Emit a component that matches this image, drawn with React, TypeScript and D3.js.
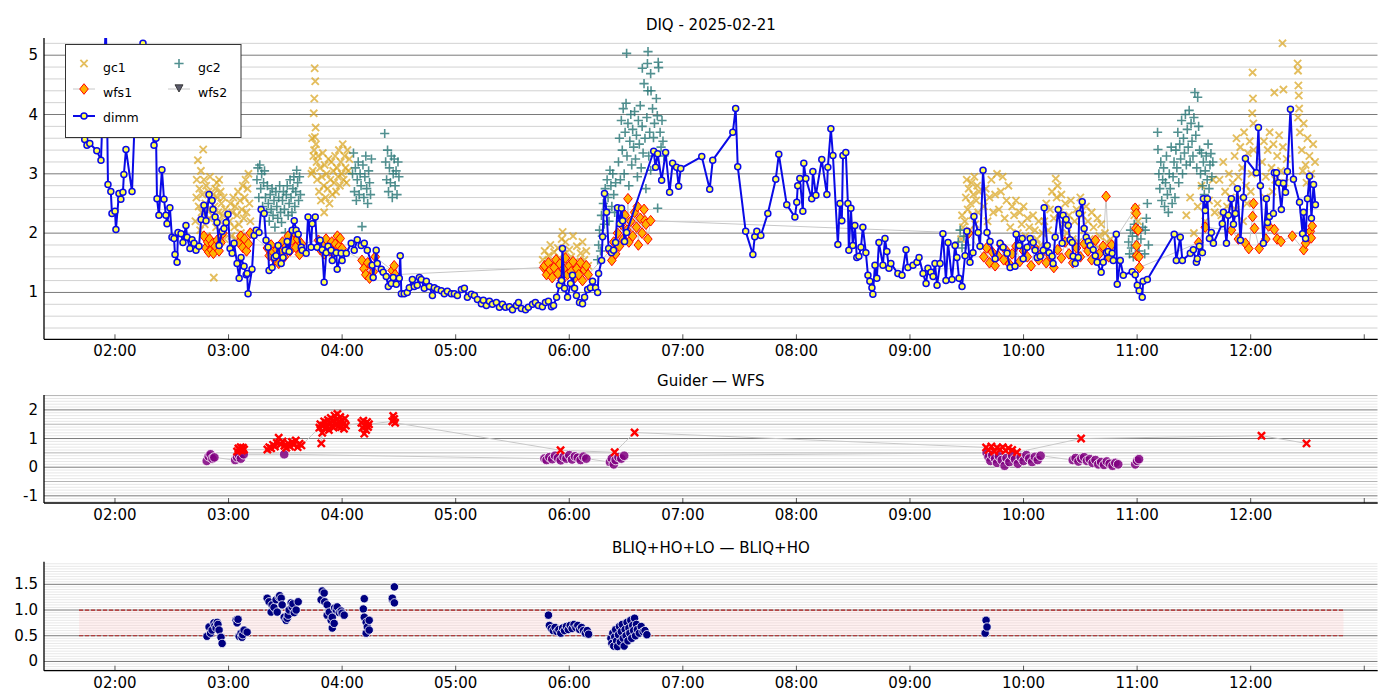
import React from "react";
import * as d3 from "d3";

type P = [number, number];

// ---------------- DATA (time in minutes after 00:00 UT, value) ----------------
const dimm: P[] = [
[100,3.90],[102,3.72],[104,3.58],[105.2,3.48],[106.7,3.51],[110.4,3.39],[112.6,3.23],[115.2,5.6],[116.3,2.82],[117.8,2.70],[118.4,2.33],[120,2.37],[120.5,2.06],[122.1,2.67],[123.1,2.57],[124.2,2.69],[124.7,2.99],[125.8,3.41],[129,2.70],[131,4.4],[134.8,5.20],[137.5,4.3],[140.6,3.48],[141.7,3.60],[142.2,2.58],[143.2,2.30],[144.8,3.07],[145.9,2.57],[146.9,2.30],[147.5,2.16],[149,2.43],[150.1,1.93],[151.2,1.91],[151.7,1.64],[152.8,1.51],[153.3,2.01],[154.9,1.99],[155.9,1.84],[157.5,2.13],[158.1,1.93],[159.6,1.74],[160.7,1.89],[161.8,1.83],[162.8,1.71],[164.4,1.78],[165.5,2.23],[167,2.47],[168.1,2.21],[169.7,2.65],[171.3,2.55],[171.8,2.40],[172.9,2.27],[173.9,2.18],[175,1.79],[176.6,2.03],[177.6,2.08],[178.7,2.18],[179.7,2.32],[180.8,1.74],[181.9,1.66],[182.9,1.83],[184.5,1.49],[185.6,1.24],[186.6,1.59],[188.2,1.44],[189.3,1.30],[189.8,1.32],[190.3,0.98],[192.4,1.39],[193.5,1.96],[194.6,2.05],[196.1,2.01],[197.2,2.40],[198.8,2.33],[199.8,1.88],[200.9,1.76],[201.4,1.37],[203,1.42],[204.1,1.59],[205.1,1.62],[206.2,1.79],[207.8,1.49],[208.8,1.59],[209.9,1.71],[211,1.86],[212,1.69],[213.6,2.05],[214.7,2.21],[215.7,2.05],[216.8,1.98],[218.4,1.76],[218.9,1.71],[221,1.66],[222,2.27],[223.6,1.76],[224.2,2.16],[225.8,2.27],[226.8,1.76],[228.4,1.88],[229.5,1.72],[230.5,1.17],[231.6,1.67],[232.6,1.78],[234.2,1.71],[234.8,1.54],[236.9,1.67],[237.4,1.39],[239.5,1.66],[240,1.54],[242.2,1.66],[244.8,1.83],[246.4,1.71],[248,1.89],[250.1,1.79],[251.7,1.83],[253.3,1.71],[255.9,1.46],[256.4,1.25],[258,1.71],[258.6,1.49],[260.7,1.39],[261.7,1.34],[263.3,1.27],[264.4,1.10],[266,1.15],[267,1.25],[268.6,1.14],[270.2,1.24],[270.7,1.62],[271.3,0.98],[272.8,0.98],[274.4,1.00],[275.5,1.08],[277.1,1.22],[278.1,1.10],[279.7,1.12],[280.8,1.25],[281.8,1.22],[283.4,1.07],[284.5,1.19],[286.1,1.10],[287.7,0.95],[288.7,1.08],[290.3,1.05],[292.4,1.03],[294,0.98],[295.6,1.02],[297.7,0.98],[299.3,0.98],[300.9,0.95],[303,1.05],[304.6,1.07],[306.2,0.92],[308.3,0.97],[309.9,0.95],[311.5,0.88],[313.6,0.81],[314.6,0.87],[316.2,0.78],[317.8,0.85],[319.4,0.80],[321.5,0.83],[323.1,0.75],[324.7,0.80],[326.3,0.75],[328.4,0.76],[330,0.71],[332.1,0.78],[333.2,0.83],[334.7,0.73],[336.9,0.71],[338.4,0.75],[340.6,0.80],[342.1,0.83],[343.7,0.78],[345.8,0.76],[347.4,0.83],[349,0.85],[350.6,0.76],[351.7,0.78],[353.3,0.92],[354.8,1.12],[355.9,1.20],[356.4,1.74],[357.5,1.07],[359.1,0.92],[360.7,1.15],[361.7,1.29],[362.8,1.07],[363.8,0.95],[365.4,0.83],[367,0.81],[368.1,0.92],[369.7,1.05],[371.2,1.08],[372.3,1.19],[373.9,1.08],[375,1.00],[375.5,1.32],[377.1,1.54],[377.6,1.94],[378.6,2.67],[379.7,2.35],[380.8,1.74],[382.3,1.67],[383.4,1.71],[384.5,1.84],[385.5,2.43],[386.6,2.16],[387.6,2.42],[388.2,2.21],[389.2,1.86],[390.3,2.01],[404.6,3.38],[405.6,3.11],[406.7,3.34],[408.8,2.89],[410.9,3.36],[413,2.69],[414.6,3.18],[416.7,3.11],[417.8,2.79],[418.9,3.09],[430,3.29],[434.2,2.74],[435.8,3.23],[446.4,3.70],[447.9,4.10],[449,3.12],[453.2,2.03],[457,1.64],[458,1.94],[459.1,2.03],[461.2,1.96],[464.9,2.33],[469.1,2.91],[470.7,3.33],[474.9,2.48],[479.2,2.27],[480.2,2.52],[480.7,2.80],[481.8,2.92],[483.4,2.37],[483.9,3.18],[485,2.92],[488.1,2.58],[488.7,3.04],[490.3,2.64],[493.4,3.24],[496.1,2.65],[496.6,3.11],[498.2,3.76],[499.3,3.31],[501.9,1.81],[503,2.50],[504,2.21],[504.6,3.31],[506.1,3.36],[507.2,2.50],[507.7,1.71],[508.8,2.42],[509.8,1.79],[510.9,2.13],[511.9,1.59],[513,1.61],[514.1,1.76],[515.1,2.10],[516.7,1.67],[517.8,1.29],[518.8,1.19],[519.9,1.08],[520.4,0.97],[521.5,1.46],[522.5,1.24],[523.6,1.84],[525.7,1.46],[526.8,1.91],[527.8,1.69],[528.9,1.41],[529.9,1.49],[533.6,1.32],[535.8,1.29],[537.9,1.72],[538.9,1.42],[541.6,1.46],[543.7,1.51],[544.8,1.59],[546.9,1.32],[548.5,1.15],[549.5,1.41],[551.1,1.34],[552.2,1.27],[553.2,1.49],[554.3,1.12],[555.9,1.49],[557.4,1.99],[559,1.20],[560.1,1.84],[562.2,1.22],[563.8,1.79],[564.8,1.59],[565.9,1.24],[567.5,1.10],[569.1,1.62],[570.1,2.03],[571.7,1.51],[573.3,1.67],[573.8,2.28],[576,2.01],[577,1.78],[578.6,3.06],[580.7,2.01],[582.3,1.86],[585,1.57],[587.6,1.83],[589.2,1.76],[591.3,1.66],[592.9,1.42],[595.5,1.44],[596.1,1.98],[597.7,1.79],[599.3,1.91],[599.8,1.57],[601.9,1.76],[603.5,1.91],[605.1,1.84],[606.1,1.71],[607.2,1.59],[608.8,1.61],[610.4,1.71],[610.9,2.43],[612.5,1.79],[613.5,1.67],[615.1,1.61],[615.6,1.49],[616.7,1.93],[618.3,2.40],[620.4,1.83],[620.9,2.30],[622.5,2.23],[623.6,2.13],[624.6,1.89],[625.7,1.84],[626.2,1.61],[627.3,1.49],[628.9,1.59],[629.4,2.33],[631,2.53],[632,2.08],[633.1,1.93],[634.2,1.86],[635.2,1.79],[636.8,1.72],[637.9,1.62],[638.9,1.51],[641,1.34],[642.1,1.51],[643.7,1.67],[644.7,1.69],[646.8,1.66],[647.4,1.54],[649,1.98],[649.5,1.14],[651.1,1.54],[652.7,1.29],[657.4,1.35],[659,1.30],[660.1,1.12],[661.1,1.03],[662.7,0.92],[663.2,1.19],[665.4,1.22],[679.6,1.98],[680.7,1.54],[682.8,1.93],[683.9,1.54],[688.1,1.66],[689.7,1.72],[691.3,1.51],[691.8,1.57],[692.9,1.78],[694.5,1.67],[695,2.58],[696,2.38],[697.1,2.58],[698.2,1.91],[699.2,2.01],[700.3,1.83],[705,2.16],[705.6,2.35],[707.2,1.83],[708.2,2.30],[709.8,2.58],[710.9,2.15],[711.9,2.33],[713,2.75],[714.6,1.88],[716.2,2.60],[717.2,3.26],[723,3.02],[724.1,3.78],[725.1,2.80],[726.7,1.83],[728.3,2.58],[728.9,2.18],[729.9,2.28],[732,2.33],[732.5,3.02],[733.6,3.02],[734.7,2.85],[736.2,2.40],[737.3,2.84],[738.4,2.69],[739.4,3.04],[741,4.09],[742.6,2.91],[745.8,2.52],[747.4,1.99],[747.9,2.35],[749,1.91],[750,2.58],[751.1,2.96],[752.1,2.25],[753.2,2.82],[754.2,2.48]
];

const gc1: P[] = [
[162.5,2.2],[163,2.6],[163.2,2.9],[163.8,3.23],[164.2,2.45],[164.6,2.75],[165,2.05],[165.4,3.05],[165.8,2.35],[166.2,2.65],[166.6,3.41],[167,2.9],[167.4,2.15],[167.8,2.5],[168.2,2.8],[168.6,1.95],[169,2.4],[169.4,2.7],[169.8,2.25],[170.2,2.95],[170.6,2.55],[171,1.85],[171.4,2.3],[171.8,2.65],[172.2,1.25],[172.6,2.45],[173,2.75],[173.4,2.1],[173.8,2.85],[174.2,2.6],[174.6,2.35],[175,2.9],[175.4,2.2],[175.8,2.7],[176.2,2.5],[176.6,2.0],[177,2.3],[177.4,2.6],[177.8,1.9],[178.2,2.4],
[180.5,2.2],[181,2.5],[181.5,1.95],[182,2.35],[182.5,2.6],[183,2.1],[183.5,2.45],[184,1.9],[184.5,2.3],[185,2.7],[185.5,2.15],[186,2.55],[186.5,2.0],[187,2.4],[187.5,2.8],[188,2.25],[188.5,2.6],[189,2.9],[189.5,2.35],[190,2.75],[190.5,3.0],[191,2.5],[191.5,2.2],
[225.5,4.78],[225.8,4.56],[225.3,4.27],[225,4.02],[226,3.78],[225.6,3.62],[226.2,3.5],[225.2,3.4],[224.8,3.3],[226.5,3.2],[224.5,3.05],
[223.8,3.0],[224.2,3.6],[226.8,2.9],[227.3,3.3],[227.8,2.7],[228.3,3.1],[228.8,2.55],[229.3,2.95],[229.8,3.35],[230.3,2.8],[230.8,3.15],[231.3,2.6],[231.8,3.0],[232.3,2.75],[232.8,3.25],[233.3,2.5],[233.8,2.9],[234.3,3.2],[234.8,2.65],[235.3,3.05],[235.8,2.85],[236.3,3.3],[236.8,2.7],[237.3,3.1],[237.8,2.95],[238.3,3.4],[238.8,2.8],[239.3,3.2],[239.8,3.0],[240.3,3.5],[240.8,2.9],[241.3,3.3],[241.8,3.1],[242.3,2.85],[242.8,3.4],[243.3,3.05],[243.8,3.25],[230.5,2.35],
[346,1.55],[347,1.7],[348,1.45],[349,1.62],[350,1.8],[351,1.5],[352,1.68],[353,1.4],[354,1.75],[355,1.58],[356,1.9],[356.5,2.02],[357,1.65],[358,1.85],[359,1.48],[360,1.72],[361,1.6],[362,1.95],[363,1.52],[364,1.78],[365,1.42],[366,1.66],[367,1.85],[368,1.55],[369,1.7],[370,1.45],[358.5,1.35],[363.5,1.3],
[567,1.9],[567.5,2.3],[568,2.1],[569,2.2],[569.5,2.6],[570,2.9],[570.5,2.4],[571,2.75],[571.5,2.05],[572,2.5],[572.5,2.85],[573,2.3],[573.5,2.65],[574,2.95],[574.5,2.15],[575,2.55],[575.5,2.8],[576,2.35],[576.5,2.7],
[579,2.45],[580,2.75],[581,2.2],[582,2.6],[583,2.9],[584,2.35],[585,2.65],[586,3.0],[587,2.4],[588,2.7],[589,2.95],[590,2.25],[591,2.55],[592,2.8],[593,2.1],[594,2.45],
[595,2.3],[596,2.55],[597,2.0],[598,2.35],[599,2.15],[600,2.45],[601,1.95],[602,2.25],[603,2.1],[604,1.85],[605,2.3],[606,2.05],[607,1.9],[608,2.2],[609,1.8],[610,2.0],
[611,2.2],[612,2.5],[613,2.05],[614,2.4],[615,2.7],[616,2.25],[617,2.92],[617.5,2.6],[618,2.8],[619,2.35],[620,2.65],[621,2.15],[622,2.5],[623,2.0],[624,2.3],[625,2.55],[626,1.9],[627,2.2],[628,2.4],[629,1.85],
[630,2.6],[631,2.3],[632,2.05],[633,2.45],[634,2.2],[635,1.9],[636,2.35],[637,2.1],[638,1.8],[639,2.25],[640,1.95],[641,2.15],[642,1.7],[643,2.0],[644,1.85],[645,1.6],[646,1.9],
[658.5,2.3],[659.5,2.42],[660.5,2.2],
[686,2.3],[688,2.6],[690,2.0],[692,2.45],[694,2.8],[696,2.2],[698,2.55],[700,2.9],[701,2.35],
[702.5,2.5],[703.5,2.9],[704.5,2.3],[705.5,3.2],[706.5,2.7],[707.5,2.45],[708.5,3.0],[709.5,2.6],[710.5,2.85],
[711.5,3.3],[712.5,3.6],[713.5,2.95],[714.5,3.45],[715.5,3.1],[716.5,3.7],[717.5,2.8],[718.5,3.35],[719.5,3.55],[720.5,3.0],[721.5,3.4],[712,2.4],[714,2.6],[716,2.2],[718,2.5],[720,2.7],
[721,4.71],[721.2,4.27],[720.8,4.02],[721.4,3.85],
[726,3.2],[727,3.55],[728,2.95],[729,3.4],[730,3.7],[731,3.1],[732,3.5],[733,2.9],[734,3.3],[735,3.65],[736,3.05],[737,3.45],[738,2.85],[739,3.25],[727.5,2.6],[731.5,2.7],
[732.5,4.37],[737.3,4.42],[736.8,5.2],
[744.8,4.86],[745,4.74],[745.2,4.49],[745.4,4.32],[745.6,4.1],[745,3.95],[746,3.7],[747,3.4],[748,3.85],[749,3.15],[750,3.6],[751,3.3],[752,3.0],[753,3.5],[754,3.2],[747.5,3.05],[749.5,2.85]
];

const gc2: P[] = [
[195,2.9],[195.5,3.1],[196,2.6],[196.5,3.15],[197,2.75],[197.5,3.0],[198,2.45],[198.5,2.85],[199,3.05],[199.5,2.6],[200,2.35],[200.5,2.8],[201,2.5],[201.5,2.2],[202,2.65],[202.5,2.4],[203,2.75],[203.5,2.3],[204,2.55],[204.5,2.1],[205,2.7],[205.5,2.45],[206,2.25],[206.5,2.6],[207,2.8],[207.5,2.35],[208,2.18],[208.5,2.55],[209,2.7],[209.5,2.4],[210,2.01],[210.5,2.65],[211,2.8],[211.5,2.3],[212,2.5],[212.5,2.9],[213,2.6],[213.5,2.35],[214,2.75],[214.5,2.95],[215,2.45],[215.5,2.7],[216,3.06],[216.5,2.85],[217,2.55],[217.5,2.95],[218,2.65],
[245.5,3.0],[246,3.35],[246.5,2.7],[247,3.1],[247.5,2.55],[248,2.9],[248.5,3.2],[249,2.65],[249.5,3.0],[250,2.8],[250.5,2.11],[251,3.15],[251.5,2.6],[252,2.95],[252.5,3.3],[253,2.75],[253.5,2.5],[254,3.05],[254.5,2.85],[255,2.65],[255.5,3.25],
[262.5,3.68],[263,3.2],[263.5,2.9],[264,3.4],[264.5,2.7],[265,3.1],[265.5,2.85],[266,3.3],[266.5,2.6],[267,3.0],[267.5,3.25],[268,2.8],[268.5,3.05],[269,2.65],[269.5,3.2],[270,2.95],
[375,1.55],[375.5,1.8],[376,2.05],[376.5,1.7],[377,2.3],[377.5,1.95],[378,2.5],[378.5,2.15],[379,2.75],[379.5,2.4],[380,2.9],[380.5,2.6],[381,2.2],[381.5,3.06],[382,2.8],[382.5,2.45],[383,3.0],[383.5,2.65],[384,2.35],[384.5,2.85],
[386,3.2],[386.5,3.6],[387,2.9],[387.5,3.9],[388,3.4],[388.5,4.1],[389,3.0],[389.5,3.7],[390,4.19],[390.5,3.3],[391,3.85],[391.5,2.8],[392,3.55],[392.5,4.0],[393,3.15],[393.5,3.75],[394,3.45],[394.5,4.05],[395,3.25],[395.5,3.65],[396,2.95],[396.5,3.9],[397,3.5],[397.5,4.15],[398,3.1],[398.5,3.8],[399,3.35],[399.5,4.52],[400,3.6],[400.5,2.75],[401,3.95],[401.5,4.4],[402,3.3],[402.5,3.7],[403,3.06],
[390.3,5.03],[398.6,4.78],[401.3,4.86],[401.6,5.06],[403,4.69],[403.2,4.4],
[404,4.10],[404.5,3.61],[405,3.85],[406,4.27],[406.5,3.98],[407,4.88],[407.2,4.79],[408,3.7],[408.5,3.45],[409,3.9],[406.7,2.42],[409.5,3.55],[410,3.3],
[565.5,1.85],[566.5,2.05],[567.5,1.75],[568.5,1.95],[569.5,1.8],[570.5,2.0],
[655.5,1.85],[656,1.65],[656.5,2.05],[657,1.75],[657.5,1.95],[658,1.6],[658.5,2.15],[659,1.8],[660,2.0],[661,1.7],[662,1.9],[663,2.1],[664,1.65],[665.4,2.5],[664.9,2.25],[664.3,2.05],[666,1.8],
[670.8,3.70],[671,3.41],[671.5,3.0],[672,2.75],[672.5,3.2],[673,2.55],[673.5,2.9],[674,3.1],[674.5,2.45],[675,2.85],[675.5,3.3],[676,2.65],[676.5,2.35],[677,3.0],[677.5,2.75],[678,3.45],[678.5,2.5],[679,2.95],[679.5,3.2],[680,2.6],
[680.5,3.4],[681,3.1],[681.5,3.7],[682,2.85],[682.5,3.5],[683,3.25],[683.5,3.9],[684,3.0],[684.5,3.6],[685,3.35],[685.5,4.0],[686,3.15],[686.5,3.75],[687,3.45],[687.5,4.07],[688,3.2],[688.5,3.85],[689,3.55],[689.5,3.3],[690,3.95],[690.5,4.37],[691,3.65],[691.5,3.1],[692,4.29],[692.5,3.8],[693,3.4],
[693.5,3.0],[694,3.35],[694.5,2.8],[695,3.2],[695.5,2.65],[696,3.05],[696.5,3.3],[697,2.9],[697.5,3.5],[698,2.75],[698.5,3.15],[699,3.34],[699.5,2.95],[700,3.2]
];

const wfs1: P[] = [
[167,1.95],[168,1.75],[169,1.85],[169.5,1.68],[170,1.9],[171,1.72],[171.5,1.82],[172,1.66],[173,1.78],[174,1.88],[175,1.7],[176,1.84],[177,2.0],
[185.5,1.84],[186.5,1.95],[187.5,1.76],[188.5,1.9],[189.5,1.7],[190.5,1.82],[191.5,2.0],
[200.5,1.75],[201.5,1.62],[202.5,1.8],[203.5,1.68],[204.5,1.55],[205.5,1.72],[206.5,1.49],[207.5,1.66],[208.5,1.85],[209.5,1.6],[210.5,1.78],[211.5,1.95],[212.5,1.7],[213.5,1.88],[214.5,2.02],[215.5,1.76],[216.5,1.9],[217.5,1.64],[218.5,1.82],
[227.5,1.88],[228.5,1.72],[229.5,1.8],[230.5,1.65],[231.5,1.9],[232.5,1.75],[233.5,1.7],[234.5,1.85],[235.5,1.68],[236.5,1.82],[237.5,1.95],[238.5,1.78],
[239,1.91],[240,1.74],[250.5,1.54],[251.5,1.4],[252.5,1.3],[253.5,1.5],[254.5,1.24],[255.5,1.45],[256.5,1.35],[257.5,1.6],[266.5,1.37],[267.5,1.45],[268,1.3],
[346.5,1.42],[347,1.45],[348,1.3],[349,1.5],[350,1.38],[351,1.25],[352,1.42],[353,1.55],[354,1.32],[355,1.48],[356,1.2],[357,1.4],[358,1.58],[359,1.3],[360,1.45],[361,1.35],[362,1.52],[363,1.25],[364,1.4],[365,1.3],[366,1.5],[367,1.2],[368,1.38],[369,1.45],[370,1.3],
[381.5,1.7],[382.5,1.54],[383.5,1.85],[384.5,1.65],[385.5,2.0],[386.5,1.78],[387.5,2.15],[388.5,1.9],[389.5,2.3],[390.5,2.05],[391,2.58],[391.5,1.85],[392.5,2.2],[393.5,1.95],[394.5,2.35],[395.5,2.1],[396,2.45],[396.5,1.8],[397.5,2.25],[398.5,2.0],[399.5,2.4],[400,2.21],[400.5,2.15],[401.5,1.9],[403,2.21],
[571,2.0],[579,1.6],[580.5,1.75],[582,1.5],[583.5,1.68],[585,1.45],[586.5,1.62],[588,1.8],[589.5,1.55],[591,1.7],[592.5,1.48],[594,1.65],[596,1.78],[598,1.52],[600,1.7],[602,1.6],[604,1.45],[606,1.75],[608,1.55],[610,1.68],[612,1.5],[614,1.62],[616,1.42],[618,1.72],[620,1.58],[622,1.85],[624,1.65],[626,1.5],[628,1.75],[630,1.6],[632,1.82],[634,1.7],[636,1.55],[638,1.88],[640,1.65],[642,1.78],[643.6,2.62],[645,1.6],[646.5,1.8],
[659,2.42],[659.3,2.08],[659.6,2.33],[659.7,1.79],[659.8,1.62],[660.5,2.05],[661,1.6],[661.2,1.42],
[692.5,1.84],[696,2.1],[709.8,2.05],[713.5,1.9],[717.2,1.83],[719,1.74],[721,2.28],[721.5,2.5],[722,2.08],[724.5,1.74],[728,1.9],[729.5,2.12],[732.5,2.06],[734,1.9],[736,1.86],[742,1.95],[748,1.72],[749,1.83],[751.5,2.03],[752,1.92],[752.5,2.12]
];

const wfs2: P[] = [];

// Guider — WFS
const guiderPurple: P[] = [
[168.5,0.22],[169.5,0.38],[170.5,0.45],[171.5,0.3],[172.5,0.34],
[183.5,0.25],[184.5,0.35],[185.5,0.42],[186.5,0.3],[188,0.45],
[209.4,0.45],
[346.9,0.3],[348,0.25],[349.5,0.35],[351,0.28],[352.5,0.4],[354,0.32],[355.5,0.24],[357,0.36],[358.5,0.3],[360,0.42],[361.5,0.27],[363,0.38],[364.5,0.33],[366,0.25],[367.5,0.37],[369,0.3],
[381.5,0.18],[382.5,0.3],[383.5,0.1],[384.5,0.25],[386,0.35],[387.5,0.3],[389,0.4],
[580.5,0.5],[581.5,0.35],[582.5,0.22],[583.5,0.42],[585,0.3],[586,0.15],[587,0.38],[588.5,0.25],[590,0.05],[591,0.32],[592.5,0.18],[594,0.4],[595.5,0.28],[597,0.12],[598.5,0.35],[600,0.22],[601.5,0.42],[603,0.3],[604.5,0.18],[606,0.36],[607.5,0.25],[609,0.4],
[626,0.25],[627.5,0.32],[629,0.2],[630.5,0.3],[632,0.35],[633.5,0.22],[635,0.28],[636.5,0.15],[638,0.25],[639.5,0.1],[641,0.18],[642.5,0.08],[644,0.2],[645.5,0.12],[647,0.05],[648.5,0.15],[650,0.1],
[659,0.1],[660,0.22],[661,0.28]
];

const guiderRed: P[] = [
[184.5,0.55],[185.2,0.65],[185.8,0.6],[186.4,0.7],[187,0.58],[187.6,0.68],[188.2,0.62],
[200.5,0.62],[201.5,0.7],[202.5,0.66],[203.5,0.78],[204.5,0.72],[205.5,0.85],[206.5,1.03],[207.5,0.8],[208.5,0.9],[209.5,0.75],[210.5,0.68],[211.5,0.83],[212.5,0.72],[213.5,0.88],[214.5,0.78],[215.5,0.93],[216.5,0.7],[217.5,0.82],[218.5,0.76],
[228,1.38],[228.5,1.5],[229,0.83],[229.5,1.2],[230,1.45],[230.5,1.6],[231,1.35],[231.5,1.55],[232,1.42],[232.5,1.65],[233,1.3],[233.5,1.55],[234,1.72],[234.5,1.45],[235,1.6],[235.5,1.38],[236,1.8],[236.5,1.5],[237,1.65],[237.5,1.86],[238,1.42],[238.5,1.58],[239,1.75],[239.5,1.4],[240,1.62],[240.5,1.5],[241,1.34],[241.5,1.7],[242,1.45],
[250.2,1.55],[250.7,1.38],[251.2,1.62],[251.7,1.17],[252.2,1.45],[252.7,1.3],[253.2,1.58],[253.7,1.4],[254.2,1.5],
[266.5,1.6],[267,1.79],[267.5,1.68],[268,1.55],
[355.4,0.59],[384,0.52],[394.5,1.21],
[580.2,0.69],[581.5,0.6],[583,0.72],[584.5,0.55],[586,0.68],[587.5,0.62],[589,0.7],[590.5,0.58],[592,0.66],[594,0.6],[596.5,0.52],
[630.4,1.0],[725.7,1.1],[749.5,0.83]
];

// BLIQ+HO+LO — BLIQ+HO
const bliqDiff: P[] = [
[168.6,0.49],[169.7,0.67],[170.5,0.55],[171.3,0.61],[172.3,0.75],[172.8,0.7],[173.4,0.65],[174,0.76],[174.4,0.72],[175,0.61],[176,0.47],[176.6,0.35],
[184,0.80],[184.5,0.75],[185,0.82],[185.6,0.49],[186.6,0.55],[187.1,0.47],[187.5,0.52],[188.2,0.61],[189.8,0.57],
[200.4,1.23],[201.4,1.16],[202.5,0.96],[203,1.10],[204,1.05],[205.1,1.20],[205.7,0.96],[206.7,1.25],[207,1.28],[207.8,1.23],[208.3,1.10],[209.4,0.86],[210.4,0.80],[211,0.84],[211.5,0.9],[212,1.0],[213.1,1.14],[213.6,1.06],[214,1.12],[214.7,0.95],[215.7,1.0],[216.8,1.16],
[228.9,1.2],[229.5,1.37],[230.5,1.33],[230.8,1.16],[232.1,1.1],[232.1,0.9],[233.2,0.96],[234.2,0.8],[234.8,0.65],[234.8,0.86],[235.8,0.74],[236,1.04],[236.9,1.0],[237.4,1.06],[238.5,0.95],[239.5,0.98],[240,0.94],[241.1,0.9],
[251.2,1.02],[251.7,1.22],[251.7,0.86],[252.7,0.76],[252.7,0.55],[253.3,0.67],[254.3,0.8],[254.3,0.61],
[266.5,1.2],[266.5,1.23],[267.6,1.14],[267.6,1.45],
[349,0.90],[349.5,0.7],[350.5,0.64],[351.5,0.6],[352.5,0.66],[353.5,0.58],[354.5,0.62],[355.5,0.55],[356.5,0.65],[357.5,0.6],[358.5,0.68],[359.5,0.62],[360.5,0.7],[361.5,0.64],[362.5,0.72],[363.5,0.66],[364.5,0.7],[365.5,0.62],[366.5,0.66],[367.5,0.6],[368.5,0.55],[369.5,0.6],[370.2,0.53],
[382,0.45],[382.5,0.35],[383,0.55],[383.5,0.3],[384,0.48],[384.5,0.62],[385,0.4],[385.5,0.29],[386,0.52],[386.5,0.68],[387,0.38],[387.5,0.58],[388,0.72],[388.5,0.45],[389,0.3],[389.5,0.62],[390,0.5],[390.5,0.76],[391,0.4],[391.5,0.65],[392,0.55],[392.5,0.8],[393,0.45],[393.5,0.7],[394,0.6],[394.5,0.84],[395,0.5],[395.5,0.72],[396,0.62],[397,0.55],[398,0.68],[399,0.58],[400,0.6],[401,0.52],
[579.7,0.55],[580.2,0.8],[580.7,0.67]
];

const bandRange = [101, 769];     // minutes
const bandLevels = [0.5, 1.0];

const timeTicks = [120, 180, 240, 300, 360, 420, 480, 540, 600, 660, 720, 780];
const timeTickLabels = ["02:00","03:00","04:00","05:00","06:00","07:00","08:00","09:00","10:00","11:00","12:00",""];
const topYTicks = [1, 2, 3, 4, 5];
const midYTicks = [-1, 0, 1, 2];
const botYTicks = [0, 0.5, 1.0, 1.5];
const botYLabels = ["0", "0.5", "1.0", "1.5"];

const titles = ["DIQ - 2025-02-21", "Guider — WFS", "BLIQ+HO+LO — BLIQ+HO"];

// ---------------- LAYOUT ----------------
const W = 1400, H = 700;
const L = 44, R = 1377.7;
const FONT = "DejaVu Sans, Verdana, sans-serif";

const x = d3.scaleLinear().domain([82.5, 787.1]).range([L, R]);
const yTop = d3.scaleLinear().domain([0.21, 5.29]).range([339.3, 38]);
const yMid = d3.scaleLinear().domain([-1.25, 2.52]).range([503, 395]);
const yBot = d3.scaleLinear().domain([-0.18, 1.94]).range([670.7, 561.7]);

const GC1 = "#daa520", GC2 = "#2b7777", WFS_FILL = "#ffb000", WFS_EDGE = "#ff0000", DIMM = "#0a0ae6", DIMM_FILL = "#ffff4d";

function steps(a: number, b: number, s: number): number[] {
  const out: number[] = [];
  const n = Math.round((b - a) / s);
  for (let i = 0; i <= n; i++) out.push(+(a + i * s).toFixed(4));
  return out;
}
const isMult = (v: number, m: number) => Math.abs(v / m - Math.round(v / m)) < 1e-6;

const xPath = (s: number) => `M${-s},${-s}L${s},${s}M${-s},${s}L${s},${-s}`;
const plusPath = (s: number) => `M${-s},0H${s}M0,${-s}V${s}`;
const diamondPath = (w: number, h: number) => `M0,${-h}L${w},0L0,${h}L${-w},0Z`;
const triDownPath = (s: number) => `M${-s},${-s * 0.8}L${s},${-s * 0.8}L0,${s}Z`;

function Grid({ y, vals, color, w = 1 }: { y: d3.ScaleLinear<number, number>; vals: number[]; color: string; w?: number }) {
  return (
    <g>
      {vals.map((v, i) => (
        <line key={i} x1={L} x2={R} y1={y(v)} y2={y(v)} stroke={color} strokeWidth={w} />
      ))}
    </g>
  );
}

function Axes({ y, bottom, top, yTicks, yLabels }: { y: d3.ScaleLinear<number, number>; bottom: number; top: number; yTicks: number[]; yLabels: string[] }) {
  return (
    <g fontFamily={FONT} fontSize={15} fill="#000">
      {timeTicks.map((t, i) => (
        <g key={i}>
          <line x1={x(t)} x2={x(t)} y1={bottom} y2={bottom - 5} stroke="#555" strokeWidth={1} />
          {timeTickLabels[i] && (
            <text x={x(t)} y={bottom + 17} textAnchor="middle">{timeTickLabels[i]}</text>
          )}
        </g>
      ))}
      {yTicks.map((v, i) => (
        <text key={i} x={L - 6} y={y(v)} textAnchor="end" dominantBaseline="central">{yLabels[i]}</text>
      ))}
      <line x1={L} x2={R} y1={bottom} y2={bottom} stroke="#000" strokeWidth={1.3} />
      <line x1={L} x2={L} y1={top} y2={bottom} stroke="#000" strokeWidth={1.3} />
    </g>
  );
}

export default function App() {
  const lineTop = d3.line<P>().x(d => x(d[0])).y(d => yTop(d[1]));
  const lineMid = d3.line<P>().x(d => x(d[0])).y(d => yMid(d[1]));
  const wfsSorted = [...wfs1].sort((a, b) => a[0] - b[0]);
  const redSorted = [...guiderRed].sort((a, b) => a[0] - b[0]);
  const purSorted = [...guiderPurple].sort((a, b) => a[0] - b[0]);

  const topMinor = steps(0.4, 5.2, 0.2).filter(v => !isMult(v, 1));
  const midMinor = steps(-1.2, 2.5, 0.1).filter(v => !isMult(v, 0.5));
  const midMed = [-0.5, 0.5, 1.5, 2.5];
  const botMinor = steps(-0.15, 1.9, 0.05).filter(v => !isMult(v, 0.5));

  return (
    <div style={{ position: "absolute", left: 0, top: 0, width: W, height: H, background: "#fff" }}>
      <svg width={W} height={H} viewBox={`0 0 ${W} ${H}`} style={{ display: "block" }}>
        <defs>
          <clipPath id="cTop"><rect x={L} y={38} width={R - L} height={339.3 - 38} /></clipPath>
          <clipPath id="cMid"><rect x={L} y={395} width={R - L} height={503 - 395} /></clipPath>
          <clipPath id="cBot"><rect x={L} y={561.7} width={R - L} height={670.7 - 561.7} /></clipPath>
        </defs>
        <rect width={W} height={H} fill="#fff" />

        {/* titles */}
        <g fontFamily={FONT} fontSize={15} textAnchor="middle" fill="#000">
          <text x={(L + R) / 2} y={30}>{titles[0]}</text>
          <text x={(L + R) / 2} y={386}>{titles[1]}</text>
          <text x={(L + R) / 2} y={553}>{titles[2]}</text>
        </g>

        {/* ---------- TOP PANEL ---------- */}
        <g clipPath="url(#cTop)">
          <Grid y={yTop} vals={topMinor} color="#d2d2d2" />
          <Grid y={yTop} vals={topYTicks} color="#7a7a7a" />
          <path d={lineTop(wfsSorted) || ""} fill="none" stroke="#c8c8c8" strokeWidth={1} />
          <g stroke={GC1} strokeWidth={1.9} strokeOpacity={0.72} fill="none">
            {gc1.map((d, i) => (
              <path key={i} d={xPath(3.6)} transform={`translate(${x(d[0])},${yTop(d[1])})`} />
            ))}
          </g>
          <g stroke={GC2} strokeWidth={1.6} strokeOpacity={0.82} fill="none">
            {gc2.map((d, i) => (
              <path key={i} d={plusPath(4.6)} transform={`translate(${x(d[0])},${yTop(d[1])})`} />
            ))}
          </g>
          <g fill={WFS_FILL} stroke={WFS_EDGE} strokeWidth={1}>
            {wfs1.map((d, i) => (
              <path key={i} d={diamondPath(4.3, 5.3)} transform={`translate(${x(d[0])},${yTop(d[1])})`} />
            ))}
          </g>
          <g fill="#5b5b6b" stroke="#222">
            {wfs2.map((d, i) => (
              <path key={i} d={triDownPath(4)} transform={`translate(${x(d[0])},${yTop(d[1])})`} />
            ))}
          </g>
          <path d={lineTop(dimm) || ""} fill="none" stroke={DIMM} strokeWidth={2} strokeLinejoin="round" />
          <g fill={DIMM_FILL} stroke={DIMM} strokeWidth={1.5}>
            {dimm.map((d, i) => (
              <circle key={i} cx={x(d[0])} cy={yTop(d[1])} r={3} />
            ))}
          </g>
        </g>
        <Axes y={yTop} bottom={339.3} top={38} yTicks={topYTicks} yLabels={topYTicks.map(String)} />

        {/* legend */}
        <g fontFamily={FONT} fontSize={12.5}>
          <rect x={65.5} y={44.5} width={175.5} height={93} fill="#fff" stroke="#333" strokeWidth={1} />
          <path d={xPath(3.6)} transform="translate(84,63.5)" stroke={GC1} strokeWidth={1.9} strokeOpacity={0.72} fill="none" />
          <text x={103} y={71.5}>gc1</text>
          <path d={plusPath(4.6)} transform="translate(179,63.5)" stroke={GC2} strokeWidth={1.6} strokeOpacity={0.82} fill="none" />
          <text x={198} y={71.5}>gc2</text>
          <line x1={73} x2={95} y1={89} y2={89} stroke="#c8c8c8" strokeWidth={1} />
          <path d={diamondPath(4.3, 5.3)} transform="translate(84,89)" fill={WFS_FILL} stroke={WFS_EDGE} strokeWidth={1} />
          <text x={103} y={96.5}>wfs1</text>
          <line x1={168} x2={190} y1={89} y2={89} stroke="#c8c8c8" strokeWidth={1} />
          <path d={triDownPath(4)} transform="translate(179,88)" fill="#5b5b6b" stroke="#222" strokeWidth={0.8} />
          <text x={198} y={96.5}>wfs2</text>
          <line x1={73} x2={95} y1={116} y2={116} stroke={DIMM} strokeWidth={2} />
          <circle cx={84} cy={116} r={3} fill={DIMM_FILL} stroke={DIMM} strokeWidth={1.5} />
          <text x={103} y={121.5}>dimm</text>
        </g>

        {/* ---------- MIDDLE PANEL ---------- */}
        <g clipPath="url(#cMid)">
          <Grid y={yMid} vals={midMinor} color="#e6e6e6" />
          <Grid y={yMid} vals={midMed} color="#b4b4b4" />
          <Grid y={yMid} vals={midYTicks} color="#7a7a7a" />
          <path d={lineMid(purSorted) || ""} fill="none" stroke="#c8c8c8" strokeWidth={1} />
          <path d={lineMid(redSorted) || ""} fill="none" stroke="#c8c8c8" strokeWidth={1} />
          <g fill="#800080" fillOpacity={0.85} stroke="#fff" strokeWidth={0.8}>
            {guiderPurple.map((d, i) => (
              <circle key={i} cx={x(d[0])} cy={yMid(d[1])} r={4.8} />
            ))}
          </g>
          <g stroke="#ff0000" strokeWidth={2.4} fill="none">
            {guiderRed.map((d, i) => (
              <path key={i} d={xPath(3.6)} transform={`translate(${x(d[0])},${yMid(d[1])})`} />
            ))}
          </g>
        </g>
        <Axes y={yMid} bottom={503} top={395} yTicks={midYTicks} yLabels={midYTicks.map(String)} />

        {/* ---------- BOTTOM PANEL ---------- */}
        <g clipPath="url(#cBot)">
          <Grid y={yBot} vals={botMinor} color="#e8e8e8" />
          <rect x={x(bandRange[0])} width={x(bandRange[1]) - x(bandRange[0])} y={yBot(bandLevels[1])} height={yBot(bandLevels[0]) - yBot(bandLevels[1])} fill="#ffcccc" fillOpacity={0.3} />
          <Grid y={yBot} vals={botYTicks} color="#7a7a7a" />
          {bandLevels.map((v, i) => (
            <line key={i} x1={x(bandRange[0])} x2={x(bandRange[1])} y1={yBot(v)} y2={yBot(v)} stroke="#b22222" strokeWidth={1.2} strokeDasharray="4 2" />
          ))}
          <g fill="#000080" stroke="#fff" strokeWidth={0.8}>
            {bliqDiff.map((d, i) => (
              <circle key={i} cx={x(d[0])} cy={yBot(d[1])} r={4.2} />
            ))}
          </g>
        </g>
        <Axes y={yBot} bottom={670.7} top={561.7} yTicks={botYTicks} yLabels={botYLabels} />
      </svg>
    </div>
  );
}
